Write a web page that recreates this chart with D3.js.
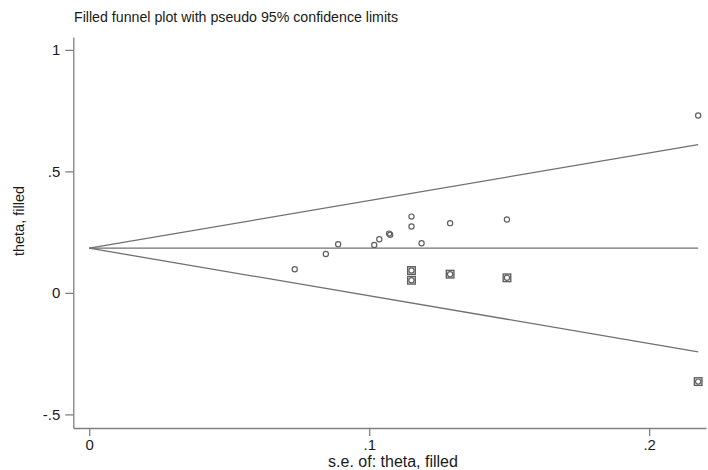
<!DOCTYPE html>
<html>
<head>
<meta charset="utf-8">
<script src="https://cdn.jsdelivr.net/npm/d3@7"></script>
<style>
  html, body { margin: 0; padding: 0; background: #fff; }
  svg { display: block; font-family: "Liberation Sans", Arial, sans-serif; }
</style>
</head>
<body>
<svg id="chart" width="708" height="470"></svg>
<script>
// ---- data ----
const title = "Filled funnel plot with pseudo 95% confidence limits";
const xTitle = "s.e. of: theta, filled";
const yTitle = "theta, filled";
const xTicks = [0, 0.1, 0.2];
const xTickLabels = ["0", ".1", ".2"];
const yTicks = [-0.5, 0, 0.5, 1];
const yTickLabels = ["-.5", "0", ".5", "1"];

const pooledTheta = 0.184;   // horizontal line
const maxSE = 0.2175;        // end of pseudo confidence limits

// observed studies
const obsSE    = [0.0734, 0.0845, 0.0889, 0.1018, 0.1036, 0.1071, 0.1075, 0.1151, 0.1151, 0.1187, 0.1289, 0.1492, 0.2175];
const obsTheta = [0.0975, 0.160, 0.200, 0.1975, 0.221, 0.244, 0.239, 0.314, 0.273, 0.2045, 0.287, 0.302, 0.730];
// filled (imputed) studies
const fillSE    = [0.1151, 0.1151, 0.1289, 0.1492, 0.2175];
const fillTheta = [0.092, 0.052, 0.077, 0.062, -0.365];

// ---- drawing ----
const svg = d3.select("#chart");
const x = d3.scaleLinear().domain([-0.0057, 0.2203]).range([73.3, 706]);
const y = d3.scaleLinear().domain([-0.556, 1.053]).range([428, 37]);

const axisColor = "#808080";
const textColor = "#1a1a1a";

// title
svg.append("text")
  .attr("x", 74).attr("y", 22)
  .attr("font-size", 14.2).attr("fill", textColor)
  .text(title);

// x axis
const gx = svg.append("g").attr("transform", `translate(0,${y.range()[0]})`)
  .call(d3.axisBottom(x).tickValues(xTicks).tickFormat((d, i) => xTickLabels[i]).tickSize(8).tickSizeOuter(0).tickPadding(3));
gx.select(".domain").attr("stroke", axisColor).attr("stroke-width", 1.3);
gx.selectAll(".tick line").attr("stroke", axisColor).attr("stroke-width", 1.3);
gx.selectAll(".tick text").attr("font-size", 15).attr("fill", textColor).attr("font-family", "Liberation Sans, Arial, sans-serif");

// y axis
const gy = svg.append("g").attr("transform", `translate(${x.range()[0]},0)`)
  .call(d3.axisLeft(y).tickValues(yTicks).tickFormat((d, i) => yTickLabels[i]).tickSize(8).tickSizeOuter(0).tickPadding(5));
gy.select(".domain").attr("stroke", axisColor).attr("stroke-width", 1.3);
gy.selectAll(".tick line").attr("stroke", axisColor).attr("stroke-width", 1.3);
gy.selectAll(".tick text").attr("font-size", 15).attr("fill", textColor).attr("font-family", "Liberation Sans, Arial, sans-serif");

// axis titles
svg.append("text")
  .attr("x", 393).attr("y", 467)
  .attr("text-anchor", "middle").attr("font-size", 16).attr("fill", textColor)
  .text(xTitle);
svg.append("text")
  .attr("transform", "translate(24,221) rotate(-90)")
  .attr("text-anchor", "middle").attr("font-size", 14.5).attr("fill", textColor)
  .text(yTitle);

// funnel lines
const lineColor = "#707070";
const seEnds = [0, maxSE];
const line = d3.line().x(d => x(d[0])).y(d => y(d[1]));
svg.append("path").attr("d", line(seEnds.map(s => [s, pooledTheta + 1.96 * s])))
  .attr("fill", "none").attr("stroke", lineColor).attr("stroke-width", 1.3);
svg.append("path").attr("d", line(seEnds.map(s => [s, pooledTheta - 1.96 * s])))
  .attr("fill", "none").attr("stroke", lineColor).attr("stroke-width", 1.3);
svg.append("path").attr("d", line(seEnds.map(s => [s, pooledTheta])))
  .attr("fill", "none").attr("stroke", lineColor).attr("stroke-width", 1.3);

// markers
const markColor = "#606060";
const obs = obsSE.map((s, i) => ({ se: s, theta: obsTheta[i] }));
const fil = fillSE.map((s, i) => ({ se: s, theta: fillTheta[i] }));

svg.append("g").selectAll("rect").data(fil).join("rect")
  .attr("x", d => x(d.se) - 3.8).attr("y", d => y(d.theta) - 3.8)
  .attr("width", 7.6).attr("height", 7.6)
  .attr("fill", "none").attr("stroke", markColor).attr("stroke-width", 1.4);

svg.append("g").selectAll("circle").data(obs.concat(fil)).join("circle")
  .attr("cx", d => x(d.se)).attr("cy", d => y(d.theta)).attr("r", 2.6)
  .attr("fill", "none").attr("stroke", markColor).attr("stroke-width", 1.2);
</script>
</body>
</html>
